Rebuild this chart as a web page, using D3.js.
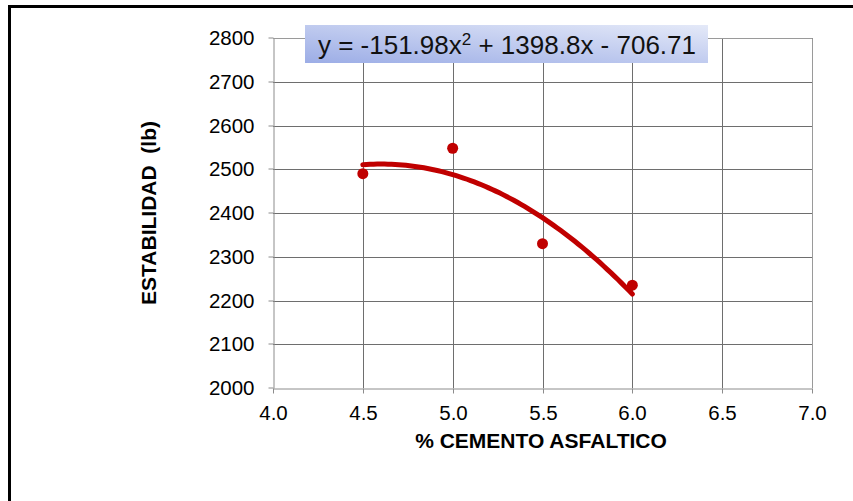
<!DOCTYPE html>
<html>
<head>
<meta charset="utf-8">
<script src="https://cdn.jsdelivr.net/npm/d3@7"></script>
<style>
  html, body { margin: 0; padding: 0; background: #fff; }
  svg { display: block; font-family: "Liberation Sans", Arial, sans-serif; }
</style>
</head>
<body>
<svg id="chart" width="853" height="501"></svg>
<script>
// Measured stability per asphalt-cement content
const cementPct = [4.5, 5.0, 5.5, 6.0];
const stability = [2490, 2548, 2330, 2235];

// Quadratic trend coefficients (a x^2 + b x + c)
const trendCoef = [-151.98, 1398.8, -706.71];

const xTicks = [4.0, 4.5, 5.0, 5.5, 6.0, 6.5, 7.0];
const yTicks = [2000, 2100, 2200, 2300, 2400, 2500, 2600, 2700, 2800];

const svg = d3.select("#chart");
const W = 853, H = 501;
const plot = { left: 273, right: 812, top: 38, bottom: 388 };
const FONT = "'Liberation Sans', Arial, sans-serif";

// outer frame
svg.append("rect")
  .attr("x", 9.5).attr("y", 6.5)
  .attr("width", W + 20).attr("height", H + 20)
  .attr("fill", "none").attr("stroke", "#000").attr("stroke-width", 3);

const x = d3.scaleLinear().domain([4.0, 7.0]).range([plot.left, plot.right]);
const y = d3.scaleLinear().domain([2000, 2800]).range([plot.bottom, plot.top]);

// grid
const g = svg.append("g");
g.selectAll(".vg").data(xTicks.slice(1)).join("line")
  .attr("x1", d => Math.round(x(d)) + 0.5).attr("x2", d => Math.round(x(d)) + 0.5)
  .attr("y1", plot.top).attr("y2", plot.bottom)
  .attr("stroke", "#6e6e6e").attr("stroke-width", 1);
g.selectAll(".hg").data(yTicks.slice(1)).join("line")
  .attr("x1", plot.left).attr("x2", plot.right)
  .attr("y1", d => Math.round(y(d)) + 0.5).attr("y2", d => Math.round(y(d)) + 0.5)
  .attr("stroke", "#6e6e6e").attr("stroke-width", 1);

// axes
const xAxis = d3.axisBottom(x).tickValues(xTicks).tickFormat(d3.format(".1f"))
  .tickSize(5).tickSizeOuter(0).tickPadding(12);
const yAxis = d3.axisLeft(y).tickValues(yTicks).tickFormat(d3.format("d"))
  .tickSize(5).tickSizeOuter(0).tickPadding(14);

const xg = svg.append("g").attr("transform", `translate(0,${plot.bottom + 0.5})`).call(xAxis);
const yg = svg.append("g").attr("transform", `translate(${plot.left + 0.5},0)`).call(yAxis);
[xg, yg].forEach(a => {
  a.attr("font-size", 20.5).attr("font-family", FONT);
  a.select(".domain").attr("stroke", "#8c8c8c");
  a.selectAll(".tick line").attr("stroke", "#8c8c8c");
  a.selectAll(".tick text").attr("fill", "#000");
});
// shift each axis tick onto the pixel grid
xg.selectAll(".tick").attr("transform", d => `translate(${Math.round(x(d)) + 0.5},0)`);
yg.selectAll(".tick").attr("transform", d => `translate(0,${Math.round(y(d))})`);

// plot area border on top / right
svg.append("path")
  .attr("d", `M${plot.left},${plot.top + 0.5} H${plot.right + 0.5} V${plot.bottom}`)
  .attr("fill", "none").attr("stroke", "#9a9a9a");

// axis titles
svg.append("text")
  .attr("x", 541).attr("y", 448)
  .attr("text-anchor", "middle").attr("font-weight", "bold").attr("font-size", 21)
  .text("% CEMENTO ASFALTICO");
svg.append("text")
  .attr("transform", `translate(155.5,213) rotate(-90)`)
  .attr("text-anchor", "middle").attr("font-weight", "bold").attr("font-size", 21)
  .attr("xml:space", "preserve")
  .text("ESTABILIDAD  (lb)");

// trend curve
const f = v => trendCoef[0] * v * v + trendCoef[1] * v + trendCoef[2];
const xs = d3.range(cementPct[0], cementPct[cementPct.length - 1] + 1e-9, 0.02);
svg.append("path")
  .datum(xs)
  .attr("d", d3.line().x(d => x(d)).y(d => y(f(d))))
  .attr("fill", "none").attr("stroke", "#c00000").attr("stroke-width", 5)
  .attr("stroke-linecap", "round");

// data points
svg.selectAll(".pt").data(cementPct).join("circle")
  .attr("cx", d => x(d)).attr("cy", (d, i) => y(stability[i]))
  .attr("r", 5.5).attr("fill", "#c00000");

// equation label
const defs = svg.append("defs");
const grad = defs.append("linearGradient").attr("id", "eqg")
  .attr("x1", "0%").attr("y1", "100%").attr("x2", "100%").attr("y2", "0%");
grad.append("stop").attr("offset", "0%").attr("stop-color", "#9cade6");
grad.append("stop").attr("offset", "100%").attr("stop-color", "#e4e9f8");
svg.append("rect")
  .attr("x", 305).attr("y", 25).attr("width", 403).attr("height", 38)
  .attr("fill", "url(#eqg)");
const eq = svg.append("text")
  .attr("x", 507).attr("y", 54).attr("text-anchor", "middle")
  .attr("font-size", 26).attr("fill", "#111");
const fmt = v => d3.format("")(Math.abs(v));
eq.append("tspan").text(`y = ${trendCoef[0] < 0 ? "-" : ""}${fmt(trendCoef[0])}x`);
eq.append("tspan").attr("dy", -9).attr("font-size", 17).text("2");
eq.append("tspan").attr("dy", 9)
  .text(` ${trendCoef[1] < 0 ? "-" : "+"} ${fmt(trendCoef[1])}x ${trendCoef[2] < 0 ? "-" : "+"} ${fmt(trendCoef[2])}`);
</script>
</body>
</html>
